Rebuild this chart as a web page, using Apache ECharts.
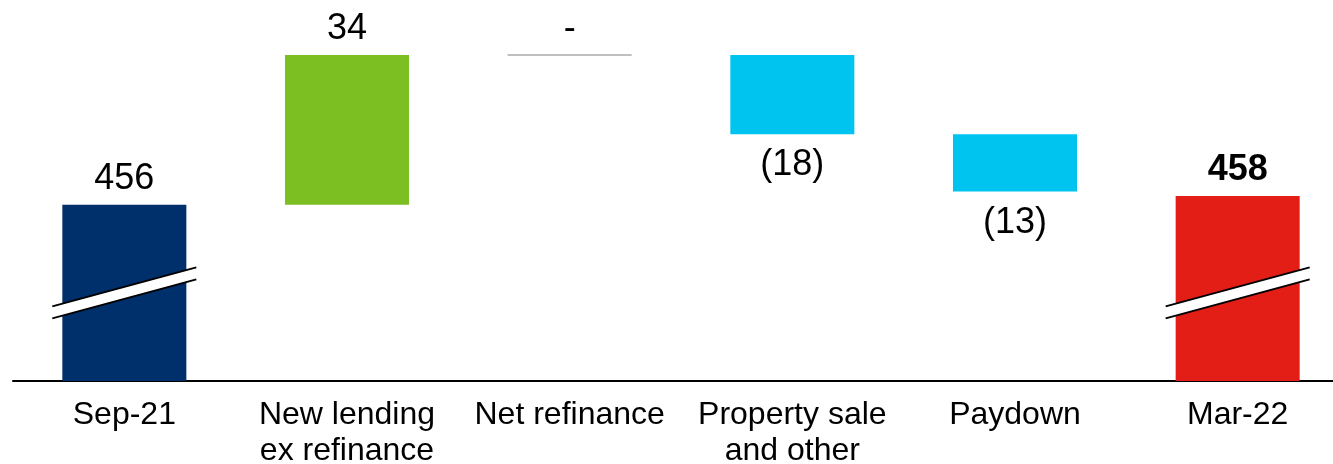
<!DOCTYPE html>
<html>
<head>
<meta charset="utf-8">
<script src="https://cdn.jsdelivr.net/npm/echarts@6/dist/echarts.min.js"></script>
<style>
  html, body { margin: 0; padding: 0; background: #ffffff; }
  #chart { width: 1333px; height: 464px; }
</style>
</head>
<body>
<div id="chart"></div>
<script>
// Loan book bridge: Sep-21 balance, movements, Mar-22 balance
const categories = ['Sep-21', 'New lending\nex refinance', 'Net refinance', 'Property sale\nand other', 'Paydown', 'Mar-22'];
const values = [456, 34, 0, -18, -13, 458];
const kinds = ['total', 'delta', 'delta', 'delta', 'delta', 'total'];
const valueLabels = ['456', '34', '-', '(18)', '(13)', '458'];
const colors = ['#00306B', '#7BBF23', '#BFBFBF', '#00C4F0', '#00C4F0', '#E31E16'];

// Value-axis window (the axis is broken below this range)
const axisMin = 416;
const axisMax = 500;
// Where the break symbol sits on the total bars
const breakAt = 436;

// Build [index, low, high] spans for each step of the bridge
const spans = [];
let running = 0;
values.forEach((v, i) => {
  if (kinds[i] === 'total') {
    spans.push([i, axisMin, v]);
    running = v;
  } else {
    const from = running;
    running = from + v;
    spans.push([i, Math.min(from, running), Math.max(from, running)]);
  }
});

const FONT = "'Liberation Sans', Arial, Helvetica, sans-serif";

function renderItem(params, api) {
  const i = api.value(0);
  const low = api.value(1);
  const high = api.value(2);
  const bandW = api.size([1, 0])[0];
  const barW = bandW * 0.557;
  const pLow = api.coord([i, low]);
  const pHigh = api.coord([i, high]);
  const cx = pLow[0];
  const x0 = cx - barW / 2;
  const children = [];
  const v = values[i];

  if (kinds[i] === 'delta' && v === 0) {
    // No movement: a flat grey rule at the running level
    children.push({
      type: 'line',
      shape: { x1: x0, y1: pHigh[1], x2: x0 + barW, y2: pHigh[1] },
      style: { stroke: colors[i], lineWidth: 2 }
    });
  } else {
    children.push({
      type: 'rect',
      shape: { x: x0, y: pHigh[1], width: barW, height: pLow[1] - pHigh[1] },
      style: { fill: colors[i] }
    });
  }

  // Axis-break symbol across the total bars
  if (kinds[i] === 'total') {
    const c = api.coord([i, breakAt]);
    const hw = barW / 2 + 10;
    const rise = 19.5;
    const gap = 6;
    const tl = [cx - hw, c[1] - gap + rise];
    const tr = [cx + hw, c[1] - gap - rise];
    const bl = [cx - hw, c[1] + gap + rise];
    const br = [cx + hw, c[1] + gap - rise];
    children.push({
      type: 'polygon',
      shape: { points: [tl, tr, br, bl] },
      style: { fill: '#ffffff' }
    });
    children.push({
      type: 'line',
      shape: { x1: tl[0], y1: tl[1], x2: tr[0], y2: tr[1] },
      style: { stroke: '#000000', lineWidth: 2 }
    });
    children.push({
      type: 'line',
      shape: { x1: bl[0], y1: bl[1], x2: br[0], y2: br[1] },
      style: { stroke: '#000000', lineWidth: 2 }
    });
  }

  // Value label: above for rises and totals, below for falls
  const below = kinds[i] === 'delta' && v < 0;
  children.push({
    type: 'text',
    style: {
      text: valueLabels[i],
      x: cx,
      y: below ? pLow[1] + 13 : pHigh[1] - 8,
      align: 'center',
      verticalAlign: below ? 'top' : 'bottom',
      fontFamily: FONT,
      fontSize: 36,
      fontWeight: i === values.length - 1 ? 'bold' : 'normal',
      fill: '#000000'
    }
  });

  return { type: 'group', children: children };
}

const chart = echarts.init(document.getElementById('chart'), null, { renderer: 'canvas' });
chart.setOption({
  animation: false,
  backgroundColor: '#ffffff',
  grid: {
    left: 13, width: 1336, top: 11, bottom: 83,
    containLabel: false,
    outerBoundsMode: 'none'
  },
  xAxis: {
    type: 'category',
    data: categories,
    boundaryGap: true,
    axisLine: { show: true, lineStyle: { color: '#000000', width: 2 } },
    axisTick: { show: false },
    axisLabel: {
      interval: 0,
      margin: 16,
      color: '#000000',
      fontFamily: FONT,
      fontSize: 32,
      lineHeight: 36
    }
  },
  yAxis: {
    type: 'value',
    min: axisMin,
    max: axisMax,
    show: false,
    splitLine: { show: false }
  },
  series: [{
    type: 'custom',
    renderItem: renderItem,
    clip: false,
    encode: { x: 0, y: [1, 2] },
    data: spans
  }]
});
</script>
</body>
</html>
